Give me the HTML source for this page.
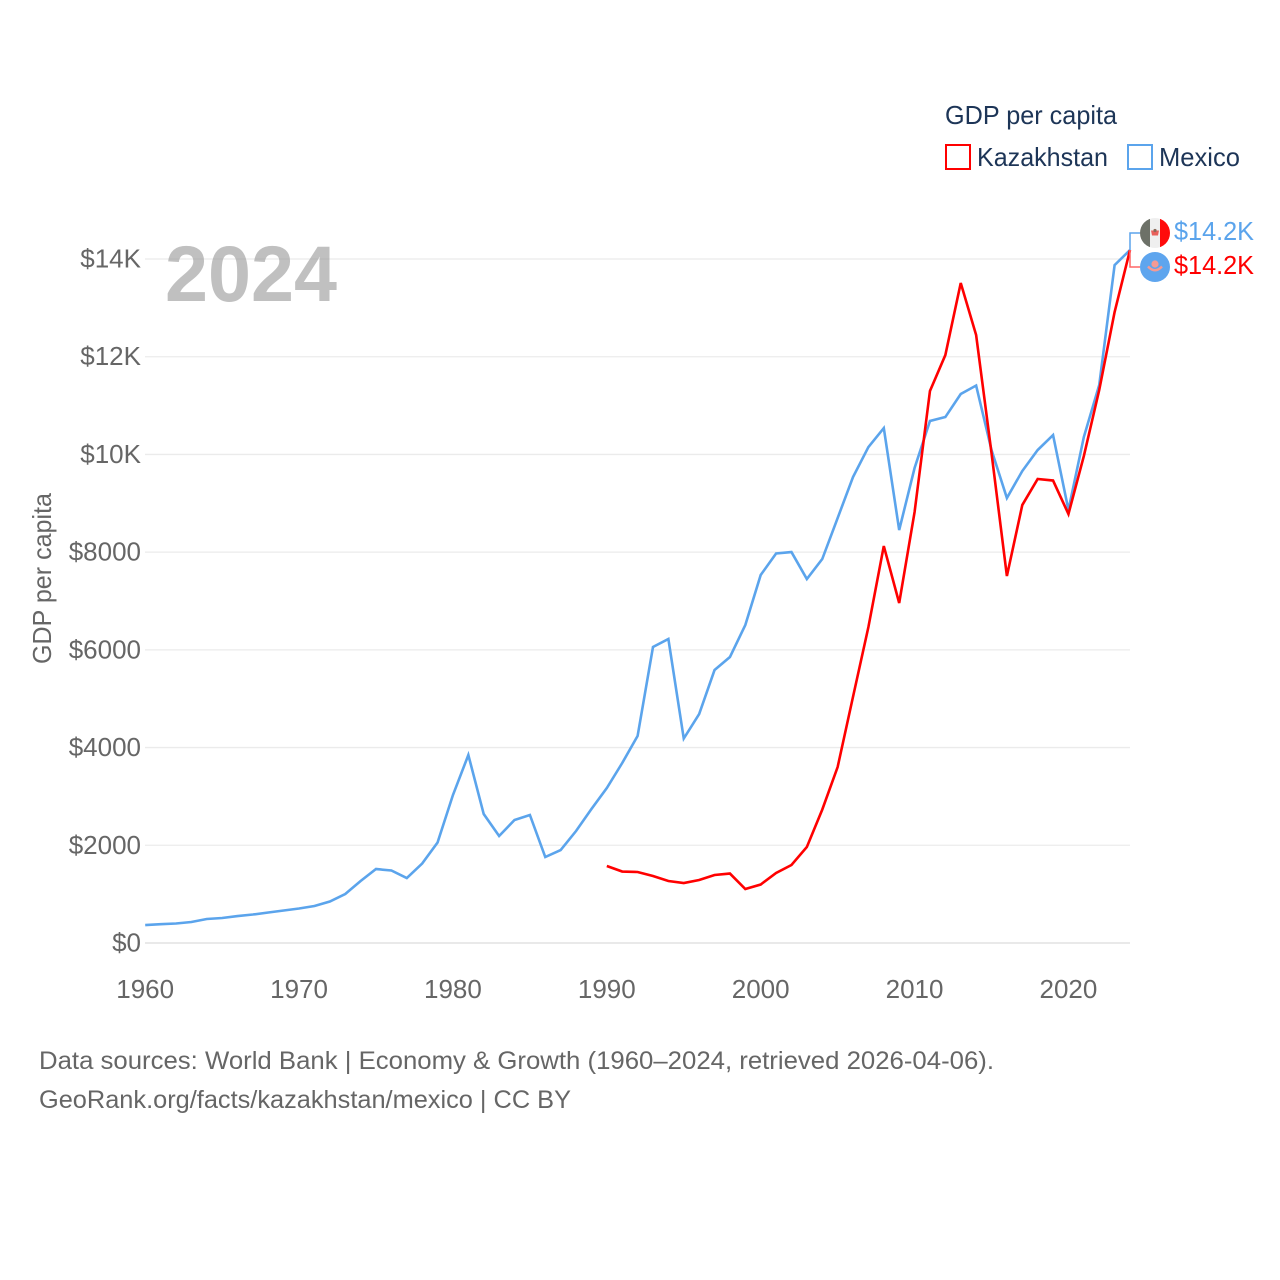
<!DOCTYPE html>
<html lang="en">
<head>
<meta charset="utf-8">
<title>GDP per capita: Kazakhstan and Mexico</title>
<style>
html,body{margin:0;padding:0;background:#fff;}
svg{display:block;font-family:"Liberation Sans",sans-serif;}
.tick{font-size:26px;fill:#666;}
.foot{font-size:25px;fill:#666;}
.leg{font-size:26px;fill:#1d3557;}
</style>
</head>
<body>
<svg id="chart" xmlns="http://www.w3.org/2000/svg" width="1280" height="1280" viewBox="0 0 1280 1280">
  <rect width="1280" height="1280" fill="#fff"/>
  <g id="grid"></g>
  <text x="165" y="301" font-size="79" font-weight="bold" fill="#999" fill-opacity="0.62" textLength="172" lengthAdjust="spacingAndGlyphs">2024</text>
  <g id="yticks"></g>
  <g id="xticks"></g>
  <text class="tick" transform="translate(51,578.5) rotate(-90)" text-anchor="middle" textLength="171" lengthAdjust="spacingAndGlyphs">GDP per capita</text>
  <g id="series"></g>

  <g>
    <text class="leg" x="945" y="124" textLength="172" lengthAdjust="spacingAndGlyphs">GDP per capita</text>
    <rect x="946" y="145" width="24" height="24" fill="#fff" stroke="#ff0000" stroke-width="2"/>
    <text class="leg" x="977" y="166" textLength="131" lengthAdjust="spacingAndGlyphs">Kazakhstan</text>
    <rect x="1128" y="145" width="24" height="24" fill="#fff" stroke="#5ba4ec" stroke-width="2"/>
    <text class="leg" x="1159" y="166" textLength="81" lengthAdjust="spacingAndGlyphs">Mexico</text>
  </g>

  <g>
    <path d="M1130 250V233H1140" fill="none" stroke="#5ba4ec" stroke-width="1.5"/>
    <path d="M1130 250V267H1140" fill="none" stroke="#ff6666" stroke-width="1.5"/>
    <defs>
      <clipPath id="clip-mx"><circle cx="1155" cy="233" r="15"/></clipPath>
    </defs>
    <g clip-path="url(#clip-mx)">
      <rect x="1140" y="218" width="10" height="30" fill="#6d7168"/>
      <rect x="1150" y="218" width="10" height="30" fill="#efefef"/>
      <rect x="1160" y="218" width="10" height="30" fill="#ff0b0b"/>
      <path d="M1151 230.5h8l-1 5h-6z" fill="#e8605a"/>
      <circle cx="1155" cy="230.5" r="1.6" fill="#8a6a5a"/>
    </g>
    <g>
      <circle cx="1155" cy="267" r="15" fill="#5ea5ee"/>
      <circle cx="1155" cy="264" r="3.6" fill="#f59a94"/>
      <path d="M1148 266.5q7 7.5 14 0" fill="none" stroke="#f59a94" stroke-width="2.4"/>
    </g>
    <text x="1174" y="240" font-size="26" fill="#5ba4ec" textLength="80" lengthAdjust="spacingAndGlyphs">$14.2K</text>
    <text x="1174" y="274" font-size="26" fill="#ff0000" textLength="80" lengthAdjust="spacingAndGlyphs">$14.2K</text>
  </g>

  <text class="foot" x="39" y="1069" textLength="955" lengthAdjust="spacingAndGlyphs">Data sources: World Bank | Economy &amp; Growth (1960–2024, retrieved 2026-04-06).</text>
  <text class="foot" x="39" y="1108" textLength="532" lengthAdjust="spacingAndGlyphs">GeoRank.org/facts/kazakhstan/mexico | CC BY</text>
</svg>
<script>
const yTickValues = [0, 2000, 4000, 6000, 8000, 10000, 12000, 14000];
const yTickLabels = ["$0", "$2000", "$4000", "$6000", "$8000", "$10K", "$12K", "$14K"];
const xTickYears = [1960, 1970, 1980, 1990, 2000, 2010, 2020];
const mexicoStartYear = 1960;
const mexicoValues = [368, 385, 399, 430, 491, 512, 552, 583, 624, 665, 706, 757, 849, 1003, 1269, 1514, 1484, 1330, 1627, 2057, 3029, 3848, 2640, 2190, 2517, 2620, 1760, 1903, 2292, 2742, 3172, 3684, 4237, 6058, 6222, 4185, 4687, 5587, 5853, 6508, 7532, 7972, 8002, 7450, 7859, 8698, 9537, 10151, 10540, 8453, 9722, 10684, 10765, 11236, 11410, 10090, 9108, 9660, 10090, 10397, 8862, 10356, 11420, 13876, 14183];
const kazakhstanStartYear = 1990;
const kazakhstanValues = [1576, 1463, 1453, 1371, 1269, 1228, 1289, 1392, 1422, 1105, 1197, 1433, 1596, 1965, 2730, 3602, 5040, 6467, 8125, 6959, 8821, 11298, 12034, 13508, 12444, 10028, 7511, 8964, 9497, 9466, 8780, 9967, 11318, 12914, 14183];

const NS = 'http://www.w3.org/2000/svg';
const xScale = function (year) { return 145.2 + (year - 1960) * (1130 - 145.2) / 64; };
const yScale = function (value) { return 943 - value * (943 - 259) / 14000; };

const gridGroup = document.getElementById('grid');
const yGroup = document.getElementById('yticks');
const xGroup = document.getElementById('xticks');
const seriesGroup = document.getElementById('series');

yTickValues.forEach(function (value, i) {
  const line = document.createElementNS(NS, 'line');
  
  
  line.setAttribute('x1', 145);
  line.setAttribute('x2', 1130);
  line.setAttribute('y1', yScale(value));
  line.setAttribute('y2', yScale(value));
  line.setAttribute('stroke', value === 0 ? '#e2e2e2' : '#ebebeb');
  line.setAttribute('stroke-width', value === 0 ? 1.6 : 1.3);
  gridGroup.appendChild(line);

  const label = document.createElementNS(NS, 'text');
  
  
  label.setAttribute('class', 'tick');
  label.setAttribute('x', 141);
  label.setAttribute('y', yScale(value) + 8.5);
  label.setAttribute('text-anchor', 'end');
  label.textContent = yTickLabels[i];
  yGroup.appendChild(label);
});

xTickYears.forEach(function (year) {
  const label = document.createElementNS(NS, 'text');
  
  
  label.setAttribute('class', 'tick');
  label.setAttribute('x', xScale(year));
  label.setAttribute('y', 998);
  label.setAttribute('text-anchor', 'middle');
  label.textContent = String(year);
  xGroup.appendChild(label);
});

function linePath(startYear, values) {
  return values.map(function (value, i) {
    return (i ? 'L' : 'M') + xScale(startYear + i).toFixed(2) + ' ' + yScale(value).toFixed(2);
  }).join('');
}

const mexicoLine = document.createElementNS(NS, 'path');


mexicoLine.setAttribute('d', linePath(mexicoStartYear, mexicoValues));
mexicoLine.setAttribute('fill', 'none');
mexicoLine.setAttribute('stroke', '#5ba4ec');
mexicoLine.setAttribute('stroke-width', 2.6);
mexicoLine.setAttribute('stroke-linejoin', 'miter');
seriesGroup.appendChild(mexicoLine);

const kazakhstanLine = document.createElementNS(NS, 'path');


kazakhstanLine.setAttribute('d', linePath(kazakhstanStartYear, kazakhstanValues));
kazakhstanLine.setAttribute('fill', 'none');
kazakhstanLine.setAttribute('stroke', '#ff0000');
kazakhstanLine.setAttribute('stroke-width', 2.6);
kazakhstanLine.setAttribute('stroke-linejoin', 'miter');
seriesGroup.appendChild(kazakhstanLine);
</script>
</body>
</html>
